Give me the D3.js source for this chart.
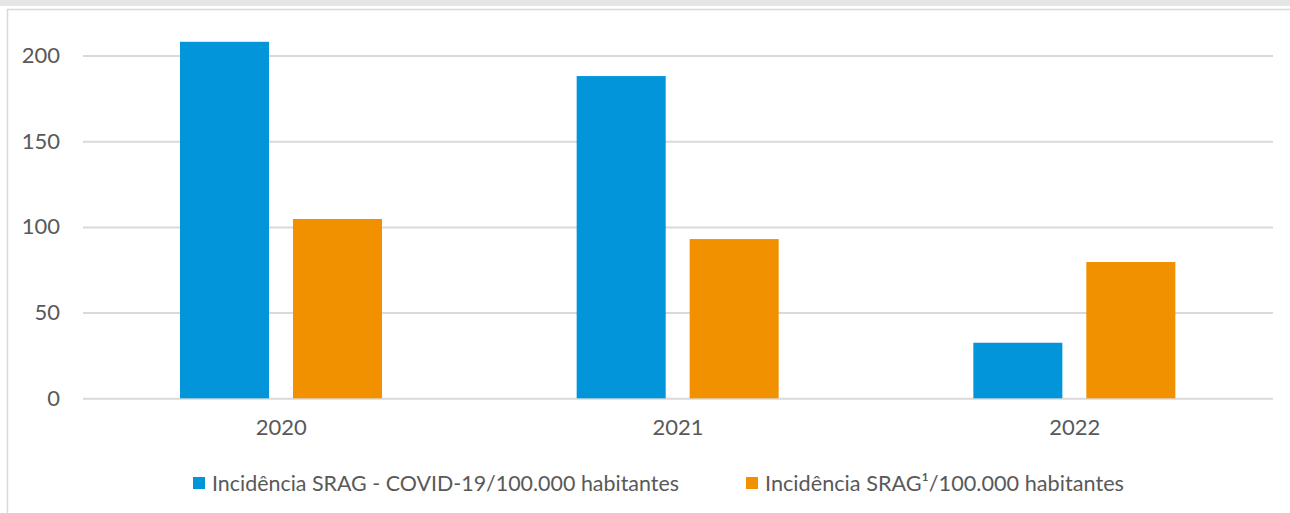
<!DOCTYPE html>
<html>
<head>
<meta charset="utf-8">
<script src="https://cdn.jsdelivr.net/npm/d3@7"></script>
<style>
    body { margin: 0; background: #fff; }
    svg { display: block; }
    text { font-family: Lato, "Liberation Sans", Arial, sans-serif; fill: #595959; }
</style>
</head>
<body>
<svg id="board" width="1290" height="513"></svg>
<script>
const years = ["2020", "2021", "2022"];
const seriesNames = [
    "Incidência SRAG - COVID-19/100.000 habitantes",
    "Incidência SRAG¹/100.000 habitantes"
];
const covidValues = [208, 188, 32.4];
const sragValues = [104.6, 92.9, 79.5];
const yTicks = [0, 50, 100, 150, 200];
const colors = ["#0395DA", "#F29100"];

const board = d3.select("#board");
const plotLeft = 83, plotRight = 1273, plotTop = 55.5, plotBottom = 398.3;

// frame bits from the cropped slide
board.append("rect").attr("x", 0).attr("y", 0).attr("width", 1290).attr("height", 6).attr("fill", "#E5E5E5");
board.append("rect")
    .attr("x", 7.5).attr("y", 9.5).attr("width", 1300).attr("height", 520)
    .attr("fill", "none").attr("stroke", "#D9D9D9").attr("stroke-width", 1.5);

const y = d3.scaleLinear().domain([0, 200]).range([plotBottom, plotTop]);
const x0 = d3.scaleBand().domain(years).range([plotLeft, plotRight]).padding(0);
const x1 = d3.scaleBand().domain([0, 1]).range([97, 299]).paddingInner(0.212).paddingOuter(0);

const yAxis = board.append("g")
    .attr("transform", `translate(${plotLeft},0)`)
    .call(d3.axisLeft(y).tickValues(yTicks).tickSize(-(plotRight - plotLeft)).tickPadding(23));
yAxis.select(".domain").remove();
yAxis.selectAll(".tick line").attr("stroke", "#D9D9D9").attr("stroke-width", 2);
yAxis.selectAll(".tick text").attr("font-size", "22px").attr("fill", "#595959");

const rows = years.map((yr, i) => ({ year: yr, values: [covidValues[i], sragValues[i]] }));

const groups = board.selectAll("g.year")
    .data(rows)
    .join("g")
    .attr("class", "year")
    .attr("transform", d => `translate(${x0(d.year)},0)`);

groups.selectAll("rect")
    .data(d => d.values.map((v, k) => ({ k: k, v: v })))
    .join("rect")
    .attr("x", d => x1(d.k))
    .attr("y", d => y(d.v))
    .attr("width", x1.bandwidth())
    .attr("height", d => y(0) - y(d.v))
    .attr("fill", d => colors[d.k]);

const xAxis = board.append("g")
    .attr("transform", `translate(0,${plotBottom})`)
    .call(d3.axisBottom(x0).tickSize(0).tickPadding(21));
xAxis.select(".domain").remove();
xAxis.selectAll(".tick text").attr("font-size", "22px").attr("fill", "#595959");

// legend
const legendX = [193, 746];
const legendW = [467, 359];
const legend = board.selectAll("g.legend")
    .data(seriesNames)
    .join("g")
    .attr("class", "legend")
    .attr("transform", (d, i) => `translate(${legendX[i]},477)`);

legend.append("rect")
    .attr("width", 12).attr("height", 12)
    .attr("fill", (d, i) => colors[i]);

legend.append("text")
    .attr("x", 19)
    .attr("y", 14)
    .attr("font-size", "22px")
    .attr("textLength", (d, i) => legendW[i])
    .attr("lengthAdjust", "spacingAndGlyphs")
    .text(d => d);
</script>
</body>
</html>
